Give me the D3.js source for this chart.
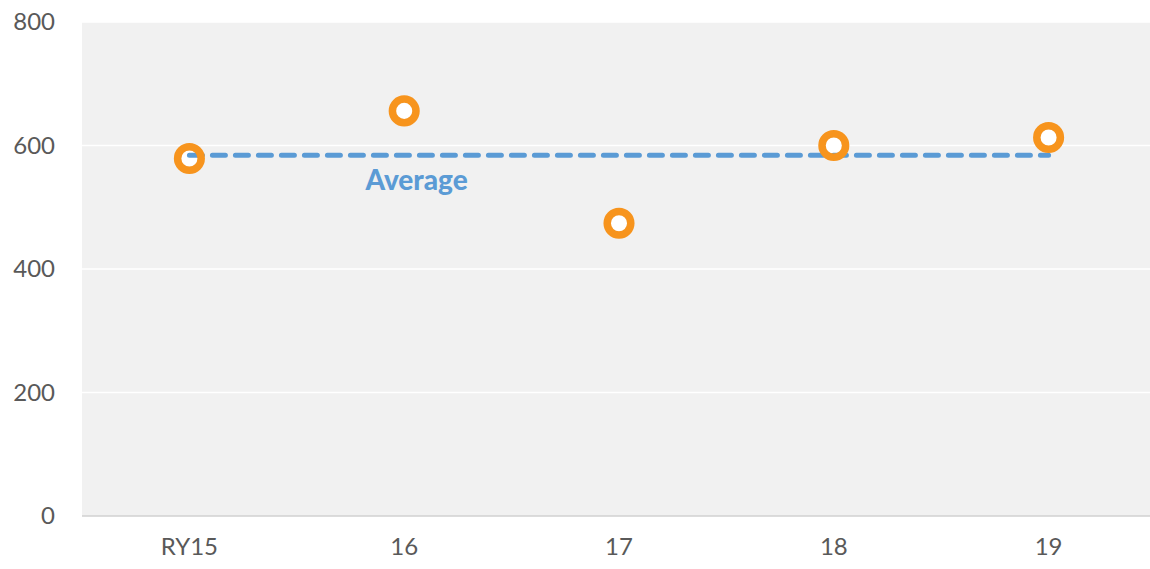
<!DOCTYPE html>
<html><head><meta charset="utf-8">
<script src="https://cdn.jsdelivr.net/npm/d3@7"></script>
<style>body{margin:0;background:#fff}svg{display:block}</style>
</head><body>
<svg id="c" width="1150" height="569"></svg>
<script>
const categories = ["RY15", "16", "17", "18", "19"];
const values = [579, 656, 474, 600, 613];
const yTicks = [0, 200, 400, 600, 800];
const averageLabel = "Average";

const W = 1150, H = 569;
const m = {left: 82, right: -6, top: 22, bottom: 53};
const svg = d3.select("#c");
const x = d3.scaleBand().domain(categories).range([m.left, W - m.right]);
const y = d3.scaleLinear().domain([0, 800]).range([H - m.bottom, m.top]);
const cx = d => x(d) + x.bandwidth() / 2;
const avg = d3.mean(values);

svg.append("rect").attr("x", m.left).attr("y", m.top)
  .attr("width", W - m.left).attr("height", y(0) - m.top).attr("fill", "#f1f1f1");

svg.append("g").selectAll("line").data(yTicks.filter(t => t > 0)).join("line")
  .attr("x1", m.left).attr("x2", W).attr("y1", d => y(d)).attr("y2", d => y(d))
  .attr("stroke", "#ffffff").attr("stroke-width", 1.5);

svg.append("line").attr("x1", m.left).attr("x2", W).attr("y1", y(0)).attr("y2", y(0))
  .attr("stroke", "#d0d0d0").attr("stroke-width", 1.5);

const font = "Lato, 'Open Sans', sans-serif";
const yAxis = svg.append("g").attr("transform", `translate(${m.left},0)`)
  .call(d3.axisLeft(y).tickValues(yTicks).tickSize(0).tickPadding(27));
yAxis.select(".domain").remove();
yAxis.selectAll("text").attr("font-family", font).attr("font-size", 24).attr("fill", "#595959");

const xAxis = svg.append("g").attr("transform", `translate(0,${y(0)})`)
  .call(d3.axisBottom(x).tickSize(0).tickPadding(22));
xAxis.select(".domain").remove();
xAxis.selectAll("text").attr("font-family", font).attr("font-size", 24).attr("fill", "#595959");

// marker fills
svg.append("g").selectAll("circle").data(categories).join("circle")
  .attr("cx", d => cx(d)).attr("cy", (d, i) => y(values[i])).attr("r", 8)
  .attr("fill", "#ffffff");

// average line
svg.append("line")
  .attr("x1", cx(categories[0])).attr("x2", cx(categories[categories.length - 1]))
  .attr("y1", y(avg)).attr("y2", y(avg))
  .attr("stroke", "#5b9bd5").attr("stroke-width", 5)
  .attr("stroke-dasharray", "13,10").attr("stroke-linecap", "round");

// marker rings
svg.append("g").selectAll("circle").data(categories).join("circle")
  .attr("cx", d => cx(d)).attr("cy", (d, i) => y(values[i])).attr("r", 11.8)
  .attr("fill", "none").attr("stroke", "#f7941d").attr("stroke-width", 7.5);

svg.append("text").attr("x", (cx(categories[1]) + cx(categories[2])) / 2 - 95)
  .attr("y", y(avg) + 25).attr("dy", "0.35em").attr("text-anchor", "middle")
  .attr("font-family", font).attr("font-weight", "900").attr("font-size", 28)
  .attr("fill", "#5b9bd5").text(averageLabel);
</script>
</body></html>
